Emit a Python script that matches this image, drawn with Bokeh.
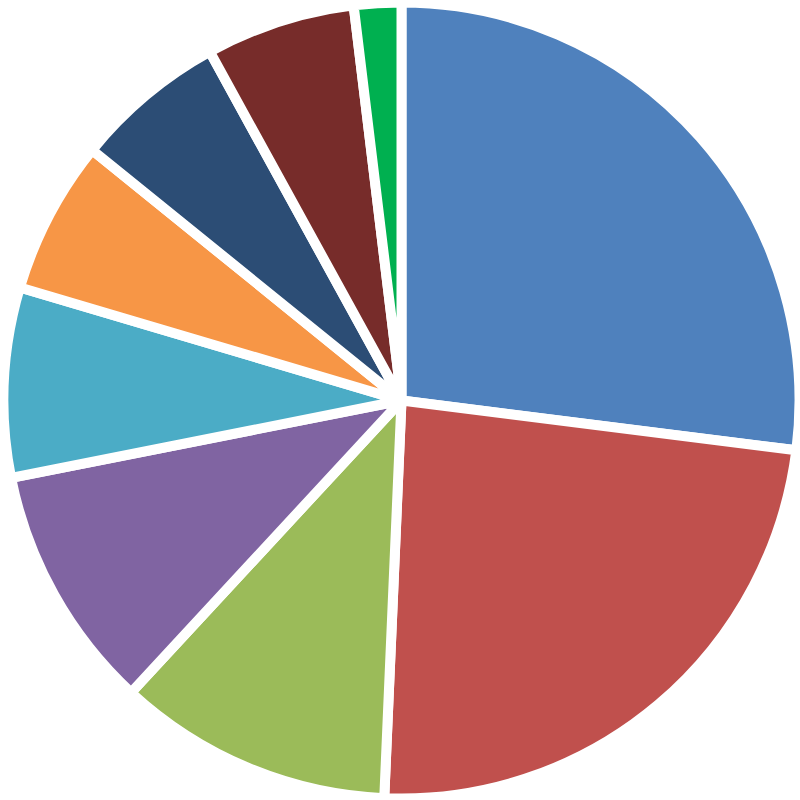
import numpy as np
from bokeh.plotting import figure
from bokeh.models import ColumnDataSource, Range1d
from bokeh.embed import file_html
from bokeh.resources import INLINE

categories = ["A", "B", "C", "D", "E", "F", "G", "H", "I"]
values = [27.0, 23.7, 11.2, 10.0, 7.7, 6.25, 6.17, 6.08, 1.92]
colors = ["#4F81BD", "#C0504D", "#9BBB59", "#8064A2", "#4BACC6",
          "#F79646", "#2C4D75", "#772C2A", "#00B050"]

vals = np.array(values, dtype=float)
frac = vals / vals.sum()
cum_after = np.cumsum(frac)
cum_before = cum_after - frac
start = np.pi / 2 - cum_after * 2 * np.pi
end = np.pi / 2 - cum_before * 2 * np.pi

src = ColumnDataSource(dict(cat=categories, val=values, color=colors,
                            start=start, end=end))

W = 800
half = W / 2
lw = 10
p = figure(width=W, height=W, output_backend="svg", toolbar_location=None,
           x_range=Range1d(-401 / half, 399 / half), y_range=Range1d(-1, 1),
           min_border=0)
p.axis.visible = False
p.grid.visible = False
p.outline_line_color = None
p.background_fill_color = "white"
p.border_fill_color = "white"

p.wedge(x=0, y=0, radius=(393 + lw / 2) / half, start_angle="start", end_angle="end",
        fill_color="color", line_color="white", line_width=lw,
        line_join="round", source=src)

open("out.html", "w").write(file_html(p, INLINE))
